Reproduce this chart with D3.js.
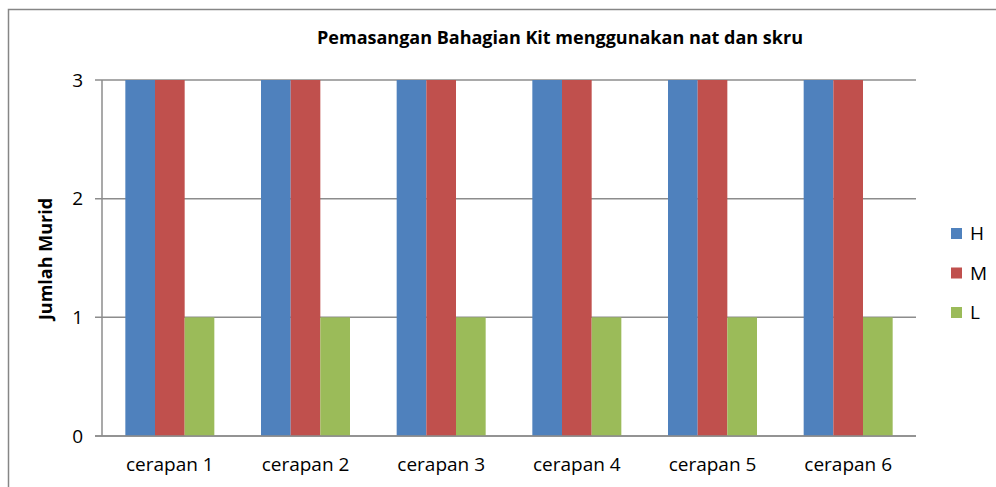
<!DOCTYPE html>
<html>
<head>
<meta charset="utf-8">
<script src="https://cdn.jsdelivr.net/npm/d3@7"></script>
<style>
  body { margin: 0; background: #fff; }
  text { font-family: "Open Sans", "Noto Sans", sans-serif; fill: #000; }
</style>
</head>
<body>
<div id="chart"></div>
<script>
// Data
const categories = ["cerapan 1", "cerapan 2", "cerapan 3", "cerapan 4", "cerapan 5", "cerapan 6"];
const seriesNames = ["H", "M", "L"];
const valuesH = [3, 3, 3, 3, 3, 3];
const valuesM = [3, 3, 3, 3, 3, 3];
const valuesL = [1, 1, 1, 1, 1, 1];
const yTicks = [0, 1, 2, 3];

const colors = { H: "#4F81BD", M: "#C0504D", L: "#9BBB59" };
const seriesValues = { H: valuesH, M: valuesM, L: valuesL };

const W = 996, H = 487;
const svg = d3.select("#chart").append("svg")
  .attr("width", W).attr("height", H);

// outer frame (only left and top visible)
svg.append("path")
  .attr("d", `M8.5,${H} V9.5 H${W}`)
  .attr("fill", "none")
  .attr("stroke", "#868686")
  .attr("stroke-width", 1.5);

const plot = { left: 102, right: 916, top: 80, bottom: 436 };

const x0 = d3.scaleBand()
  .domain(categories)
  .range([plot.left, plot.right])
  .paddingInner(0.344)
  .paddingOuter(0.172);

const x1 = d3.scaleBand()
  .domain(seriesNames)
  .range([0, x0.bandwidth()]);

const y = d3.scaleLinear().domain([0, 3]).range([plot.bottom, plot.top]);

// gridlines
svg.append("g").selectAll("line")
  .data(yTicks)
  .join("line")
  .attr("x1", plot.left - 7)
  .attr("x2", plot.right)
  .attr("y1", d => y(d))
  .attr("y2", d => y(d))
  .attr("stroke", "#8c8c8c")
  .attr("stroke-width", 1.5);

// y axis line
svg.append("line")
  .attr("x1", plot.left).attr("x2", plot.left)
  .attr("y1", plot.top).attr("y2", plot.bottom)
  .attr("stroke", "#8c8c8c")
  .attr("stroke-width", 1.5);

// bars
const groups = svg.append("g").selectAll("g")
  .data(categories)
  .join("g")
  .attr("transform", d => `translate(${x0(d)},0)`);

groups.selectAll("rect")
  .data((d, i) => seriesNames.map(s => ({ s, v: seriesValues[s][i] })))
  .join("rect")
  .attr("x", d => x1(d.s))
  .attr("y", d => y(d.v))
  .attr("width", x1.bandwidth())
  .attr("height", d => y(0) - y(d.v))
  .attr("fill", d => colors[d.s]);

// redraw zero line on top of bars
svg.append("line")
  .attr("x1", plot.left - 7).attr("x2", plot.right)
  .attr("y1", y(0)).attr("y2", y(0))
  .attr("stroke", "#8c8c8c")
  .attr("stroke-width", 1.5);

// y tick labels
svg.append("g").selectAll("text")
  .data(yTicks)
  .join("text")
  .attr("x", 83)
  .attr("y", d => y(d))
  .attr("dy", "0.35em")
  .attr("text-anchor", "end")
  .style("font-size", "19px")
  .text(d => d);

// x labels
svg.append("g").selectAll("text")
  .data(categories)
  .join("text")
  .attr("x", d => x0(d) + x0.bandwidth() / 2)
  .attr("y", 471)
  .attr("text-anchor", "middle")
  .style("font-size", "19px")
  .text(d => d);

// title
svg.append("text")
  .attr("x", 560)
  .attr("y", 44)
  .attr("text-anchor", "middle")
  .style("font-size", "18px")
  .style("font-weight", "bold")
  .text("Pemasangan Bahagian Kit menggunakan nat dan skru");

// y axis title
svg.append("text")
  .attr("transform", `translate(52,259) rotate(-90)`)
  .attr("text-anchor", "middle")
  .style("font-size", "18px")
  .style("font-weight", "bold")
  .text("Jumlah Murid");

// legend
const legend = svg.append("g").selectAll("g")
  .data(seriesNames)
  .join("g")
  .attr("transform", (d, i) => `translate(951,${228 + i * 39.5})`);

legend.append("rect")
  .attr("width", 11).attr("height", 11)
  .attr("fill", d => colors[d]);

legend.append("text")
  .attr("x", 19)
  .attr("y", 5.5)
  .attr("dy", "0.35em")
  .style("font-size", "19px")
  .text(d => d);
</script>
</body>
</html>
